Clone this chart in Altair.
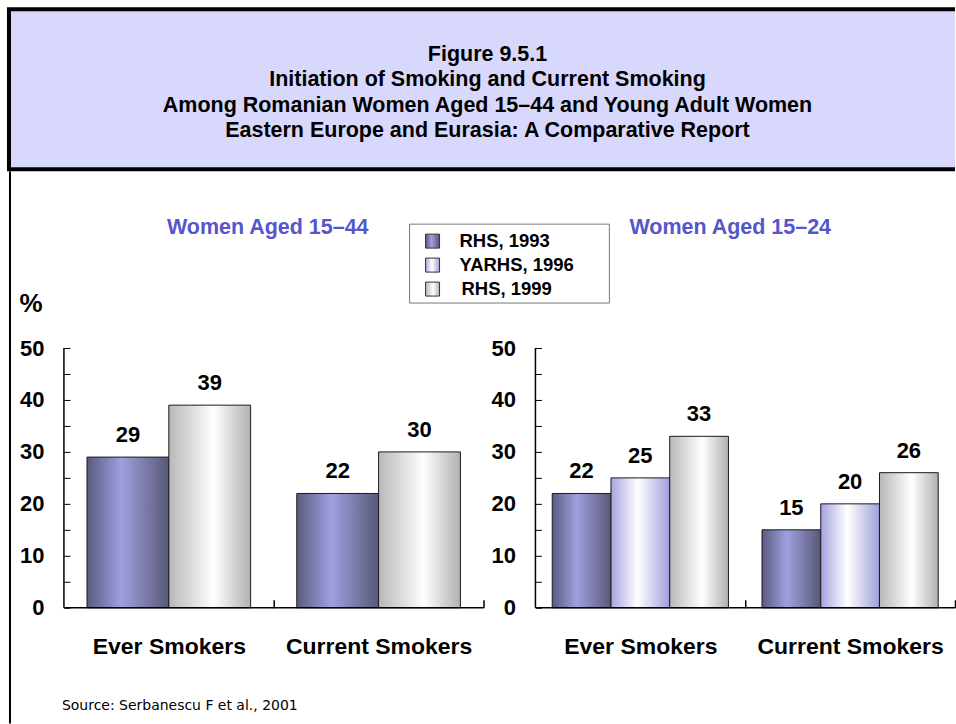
import altair as alt
import pandas as pd

# ---------------- data ----------------
categories = ["Ever Smokers", "Current Smokers"]

left_series = ["RHS, 1993", "RHS, 1999"]
left_ever = [29, 39]
left_current = [22, 30]

right_series = ["RHS, 1993", "YARHS, 1996", "RHS, 1999"]
right_ever = [22, 25, 33]
right_current = [15, 20, 26]

legend_series = ["RHS, 1993", "YARHS, 1996", "RHS, 1999"]
y_ticks = [0, 5, 10, 15, 20, 25, 30, 35, 40, 45, 50]

title_lines = [
    "Figure 9.5.1",
    "Initiation of Smoking and Current Smoking",
    "Among Romanian Women Aged 15\u201344 and Young Adult Women",
    "Eastern Europe and Eurasia: A Comparative Report",
]
panel_titles = ["Women Aged 15\u201344", "Women Aged 15\u201324"]
y_unit = "%"
source_text = "Source: Serbanescu F et al., 2001"

# ---------------- styles ----------------
FONT = "Liberation Sans"
W, H = 420, 260
STEP = W / 2


def grad(stops):
    return alt.Gradient(
        gradient="linear",
        stops=[alt.GradientStop(color=c, offset=o) for o, c in stops],
        x1=0, x2=1, y1=0, y2=0,
    )


GRAD = {
    "RHS, 1993": grad([(0, "#5a5a80"), (0.42, "#a0a0e0"), (1, "#585878")]),
    "YARHS, 1996": grad([(0, "#a4a4e0"), (0.45, "#ffffff"), (1, "#a0a0dc")]),
    "RHS, 1999": grad([(0, "#b8b8b8"), (0.55, "#ffffff"), (1, "#b0b0b0")]),
}

one = pd.DataFrame({"k": [0]})


def make_df(series, ever, current):
    rows = []
    for s, v in zip(series, ever):
        rows.append({"category": categories[0], "series": s, "value": v})
    for s, v in zip(series, current):
        rows.append({"category": categories[1], "series": s, "value": v})
    return pd.DataFrame(rows)


def deco_rect(x1, x2, y1, y2, fill, **kw):
    return alt.Chart(one).mark_rect(fill=fill, **kw).encode(
        x=alt.value(x1), x2=alt.value(x2), y=alt.value(y1), y2=alt.value(y2)
    )


def deco_text(x, y, text, size, color="black", weight="bold", font=FONT, align="center"):
    return alt.Chart(one).mark_text(
        font=font, fontSize=size, fontWeight=weight, color=color, align=align, baseline="middle"
    ).encode(x=alt.value(x), y=alt.value(y), text=alt.value(text))


def panel(df, series, inner, outer, extra):
    x = alt.X(
        "category:N",
        sort=categories,
        scale=alt.Scale(domain=categories, paddingInner=inner, paddingOuter=outer),
        axis=alt.Axis(
            title=None, labelAngle=0, domain=False, tickSize=8, tickOffset=STEP / 2,
            labelOffset=-STEP / 2, labelLimit=400,
            tickColor="black", tickWidth=1.5, offset=-8, labelFont=FONT, labelFontSize=23,
            labelFontWeight="bold", labelColor="black", labelPadding=28, zindex=2,
        ),
    )
    xo = alt.XOffset(
        "series:N",
        scale=alt.Scale(domain=series, paddingInner=0, paddingOuter=0),
    )
    y = alt.Y(
        "value:Q",
        scale=alt.Scale(domain=[0, 50], nice=False, zero=True),
        axis=alt.Axis(
            title=None, values=y_ticks, grid=False, domain=False,
            labelExpr="datum.value % 10 == 0 ? datum.label : ''",
            tickSize=6, tickColor="black", offset=-6, labelPadding=20, zindex=2,
            labelFont=FONT, labelFontSize=22, labelFontWeight="bold", labelColor="black",
        ),
    )
    base = alt.Chart(df).encode(x=x, xOffset=xo, y=y)
    layers = list(extra)
    for s in series:
        layers.append(
            base.transform_filter(alt.datum.series == s).mark_bar(
                color=GRAD[s], stroke="#1a1a1a", strokeWidth=1
            )
        )
    layers.append(
        base.mark_text(
            baseline="alphabetic", dy=-15, font=FONT, fontSize=22, fontWeight="bold", color="black"
        ).encode(text="value:Q")
    )
    # axis lines
    layers.append(
        alt.Chart(one).mark_rule(color="black", strokeWidth=1.5).encode(
            x=alt.value(0), y=alt.value(0), y2=alt.value(H)
        )
    )
    layers.append(
        alt.Chart(one).mark_rule(color="black", strokeWidth=1.5).encode(
            x=alt.value(0), x2=alt.value(W), y=alt.value(H)
        )
    )
    return alt.layer(*layers).properties(width=W, height=H)


# left panel decorations (origin at page 64,348)
OX, OY = 64, 348
left_extra = [
    deco_rect(-OX, 956 - OX, -OY, 724 - OY, "white"),
    deco_rect(7 - OX, 956 - OX, 7 - OY, 171 - OY, "black"),
    deco_rect(11 - OX, 956 - OX, 11 - OY, 167 - OY, "#d8d8fc"),
    deco_rect(9 - OX, 11 - OX, 171 - OY, 724 - OY, "black"),
]
for i, line in enumerate(title_lines):
    left_extra.append(deco_text(488 - OX, [55, 80, 106, 131][i] - OY, line, 21.5))
left_extra.append(deco_text(268 - OX, 228 - OY, panel_titles[0], 21.5, color="#5555cc"))
left_extra.append(deco_text(31 - OX, 304 - OY, y_unit, 26))
left_extra.append(
    deco_text(62 - OX, 706 - OY, source_text, 14, weight="normal", font="DejaVu Sans", align="left")
)
# legend box
left_extra.append(deco_rect(410 - OX, 610 - OX, 224 - OY, 303 - OY, "white", stroke="#777777", strokeWidth=1))
for i, s in enumerate(legend_series):
    cy = [241, 265, 289][i]
    left_extra.append(
        alt.Chart(one).mark_rect(color=GRAD[s], stroke="#333333", strokeWidth=1).encode(
            x=alt.value(426 - OX), x2=alt.value(440 - OX), y=alt.value(cy - 7 - OY), y2=alt.value(cy + 7 - OY)
        )
    )
    left_extra.append(deco_text((460 if i < 2 else 462) - OX, cy - OY, s, 18.5, align="left"))

RX = 536
right_extra = [deco_text(731 - RX, 228 - OY, panel_titles[1], 21.5, color="#5555cc")]

left = panel(make_df(left_series, left_ever, left_current), left_series, 0.22, 0.11, left_extra)
right = panel(make_df(right_series, right_ever, right_current), right_series, 0.16, 0.08, right_extra)

chart = (
    alt.hconcat(left, right, spacing=52, bounds="flush")
    .resolve_scale(x="independent", xOffset="independent", y="independent")
    .properties(padding=0, autosize=alt.AutoSizeParams(type="pad"), background="white")
    .configure_view(stroke=None)
)

chart.save("out.html", embed_options={"renderer": "svg", "actions": False})
